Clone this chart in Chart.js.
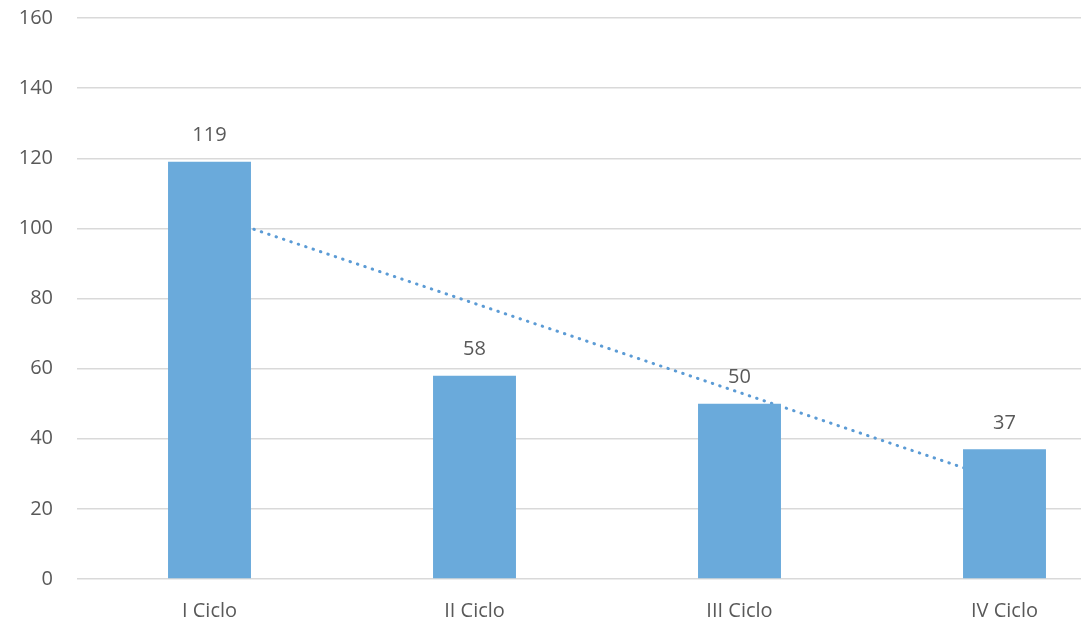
<!DOCTYPE html>
<html>
<head>
<meta charset="utf-8">
<script src="https://cdn.jsdelivr.net/npm/chart.js@4/dist/chart.umd.min.js"></script>
<style>
  html, body { margin: 0; padding: 0; background: #fff; overflow: hidden; }
  #wrap { width: 1081px; height: 620px; overflow: hidden; position: relative; }
  #box { width: 1140px; height: 620px; position: absolute; left: 0; top: 0; }
</style>
</head>
<body>
<div id="wrap"><div id="box"><canvas id="cicloChart"></canvas></div></div>
<script>
// Categories and values
const categories = ['I Ciclo', 'II Ciclo', 'III Ciclo', 'IV Ciclo'];
const values = [119, 58, 50, 37];
// Dotted linear trend line
const trendValues = [104, 78.6, 53.2, 27.8];
const yTicks = [0, 20, 40, 60, 80, 100, 120, 140, 160];

const textColor = '#595959';
const fontFamily = "'Open Sans', 'Noto Sans', sans-serif";

// Small plugin to write the values above each bar
const barLabels = {
  id: 'barLabels',
  afterDatasetsDraw(chart) {
    const ctx = chart.ctx;
    const meta = chart.getDatasetMeta(0);
    ctx.save();
    ctx.font = '20px ' + fontFamily;
    ctx.fillStyle = textColor;
    ctx.textAlign = 'center';
    ctx.textBaseline = 'middle';
    meta.data.forEach((bar, i) => {
      ctx.fillText(String(values[i]), bar.x, bar.y - 26);
    });
    ctx.restore();
  }
};

new Chart(document.getElementById('cicloChart'), {
  data: {
    labels: categories,
    datasets: [
      {
        type: 'bar',
        data: values,
        backgroundColor: '#6AAADB',
        categoryPercentage: 1,
        barPercentage: 0.313,
        order: 1
      },
      {
        type: 'line',
        data: trendValues,
        borderColor: '#5B9BD5',
        borderWidth: 3,
        borderDash: [0.5, 7.3],
        borderCapStyle: 'round',
        pointRadius: 0,
        fill: false,
        order: 2
      }
    ]
  },
  options: {
    responsive: true,
    maintainAspectRatio: false,
    animation: false,
    layout: { padding: { top: 18, right: 3, left: 0, bottom: 0 } },
    plugins: {
      legend: { display: false },
      tooltip: { enabled: false }
    },
    scales: {
      x: {
        grid: { display: false, drawTicks: false },
        border: { display: false },
        ticks: {
          color: textColor,
          font: { size: 20, family: fontFamily },
          padding: 20
        },
        afterFit(scale) { scale.height = 41; }
      },
      y: {
        min: 0,
        max: 160,
        afterBuildTicks(scale) { scale.ticks = yTicks.map(v => ({ value: v })); },
        grid: { color: '#D9D9D9', lineWidth: 1.5, drawTicks: false },
        border: { display: false },
        ticks: {
          color: textColor,
          font: { size: 20, family: fontFamily },
          padding: 24
        },
        afterFit(scale) {
          scale.width = 77;
          scale.paddingTop = 0;
          scale.paddingBottom = 0;
        }
      }
    }
  },
  plugins: [barLabels]
});
</script>
</body>
</html>
